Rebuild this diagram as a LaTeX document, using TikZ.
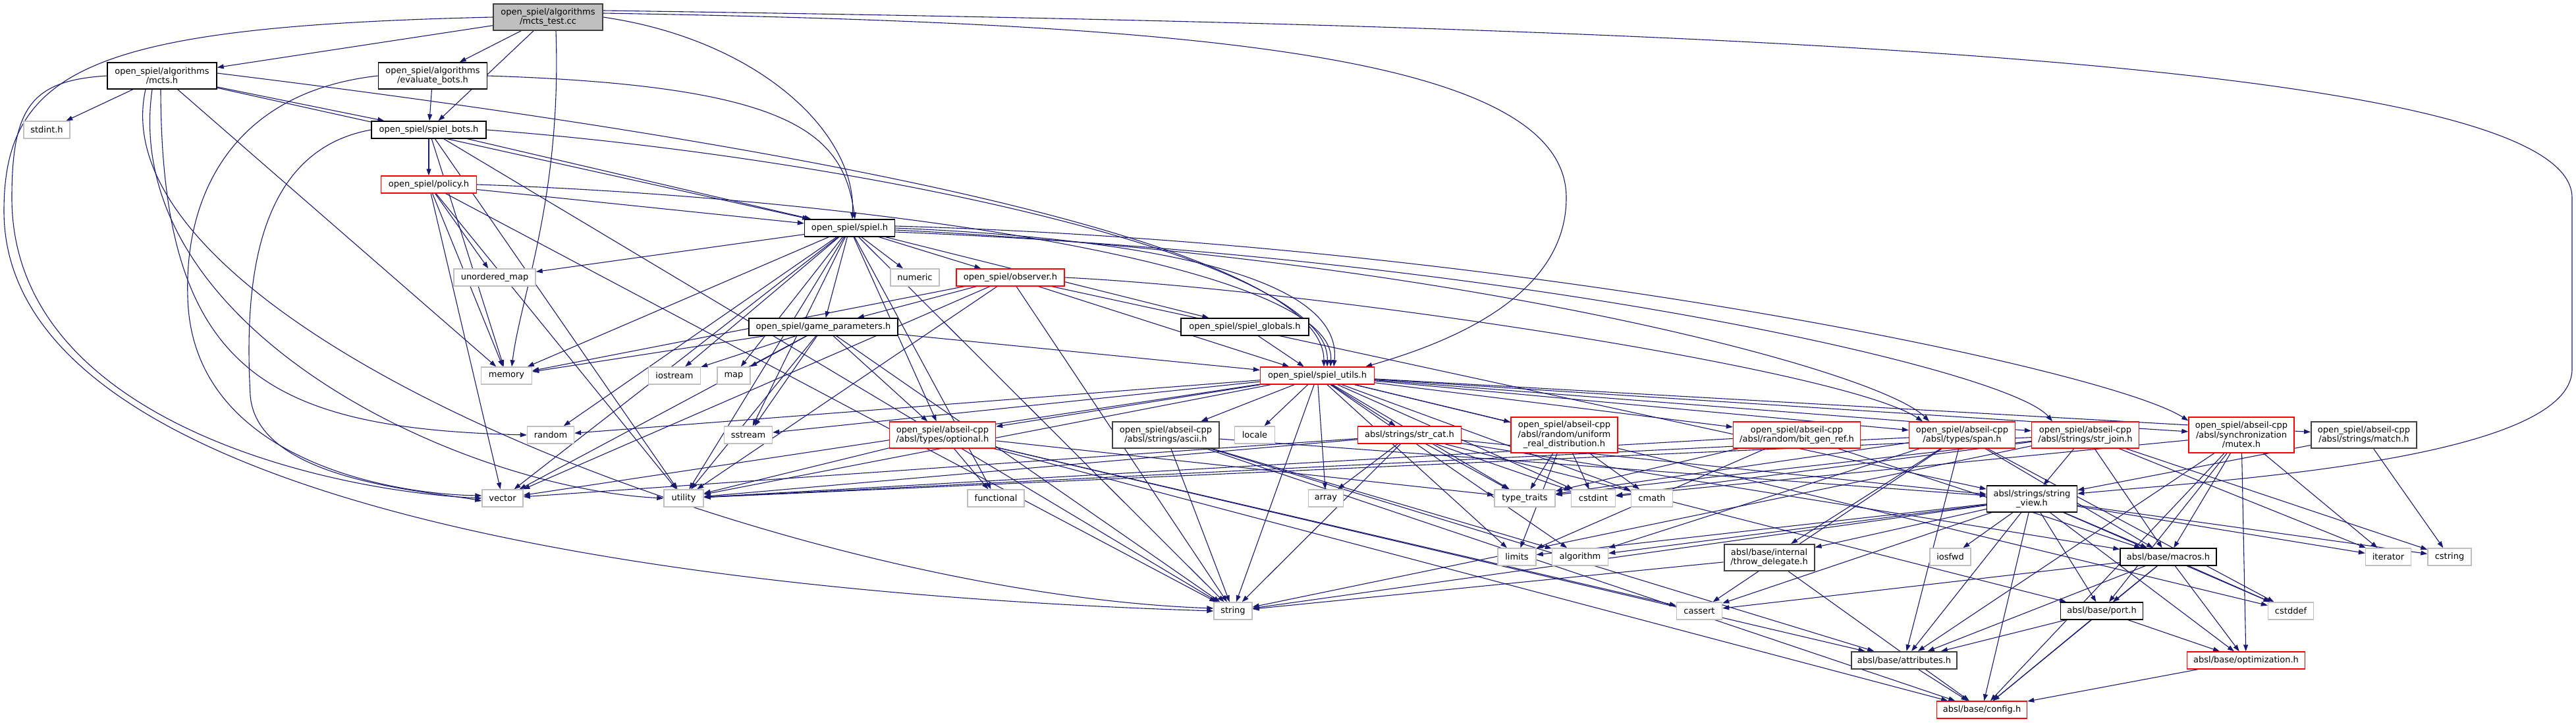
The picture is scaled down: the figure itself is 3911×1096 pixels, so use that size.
\documentclass[tikz,border=0pt]{standalone}
\usepackage{fontspec}
\setmainfont{DejaVu Sans}
\usetikzlibrary{arrows.meta,backgrounds}

\definecolor{edgeblue}{HTML}{191970}
\definecolor{rootfill}{HTML}{BFBFBF}
\definecolor{sysgray}{HTML}{BFBFBF}
\definecolor{darkbox}{HTML}{404040}

\tikzset{
  hdr/.style={draw=black, line width=1.4pt, fill=white, inner sep=1pt, align=center,
    font=\fontsize{13}{14.5}\selectfont, minimum height=26pt},
  twol/.style={minimum height=40pt},
  threel/.style={minimum height=54pt},
  redhdr/.style={hdr, draw=red},
  darkhdr/.style={hdr, draw=darkbox, line width=2pt},
  syshdr/.style={hdr, draw=sysgray},
  roothdr/.style={hdr, draw=darkbox, fill=rootfill},
  dep/.style={draw=edgeblue, line width=1.1pt, -{Triangle[length=10pt,width=7pt]}},
}

\begin{document}
\begin{tikzpicture}[x=1pt,y=1pt]
    \useasboundingbox (0,0) rectangle (3911,-1096);

    % Files of the project
    \node[roothdr, twol, minimum width=166pt] (test) at (832,-26) {open\_spiel/algorithms\\/mcts\_test.cc};
    \node[hdr, twol, minimum width=166pt] (mcts) at (246,-115) {open\_spiel/algorithms\\/mcts.h};
    \node[hdr, twol, minimum width=165pt] (evalb) at (657,-115) {open\_spiel/algorithms\\/evaluate\_bots.h};
    \node[hdr, minimum width=174pt] (bots) at (651,-197) {open\_spiel/spiel\_bots.h};
    \node[redhdr, minimum width=145pt] (policy) at (651,-280) {open\_spiel/policy.h};
    \node[hdr, minimum width=137pt] (spiel) at (1290,-346) {open\_spiel/spiel.h};
    \node[redhdr, minimum width=164pt] (observer) at (1534,-421) {open\_spiel/observer.h};
    \node[hdr, minimum width=226pt] (params) at (1250,-496) {open\_spiel/game\_parameters.h};
    \node[hdr, minimum width=194pt] (globals) at (1890,-496) {open\_spiel/spiel\_globals.h};
    \node[redhdr, minimum width=173pt] (utils) at (2000,-570) {open\_spiel/spiel\_utils.h};

    % Abseil files
    \node[redhdr, twol, minimum width=161pt] (optional) at (1431,-660) {open\_spiel/abseil-cpp\\/absl/types/optional.h};
    \node[darkhdr, twol, minimum width=162pt] (ascii) at (1770,-660) {open\_spiel/abseil-cpp\\/absl/strings/ascii.h};
    \node[redhdr, minimum width=157pt] (strcat) at (2140,-660) {absl/strings/str\_cat.h};
    \node[redhdr, threel, minimum width=162pt] (uniform) at (2375,-660) {open\_spiel/abseil-cpp\\/absl/random/uniform\\\_real\_distribution.h};
    \node[redhdr, twol, minimum width=193pt] (bitgen) at (2728,-660) {open\_spiel/abseil-cpp\\/absl/random/bit\_gen\_ref.h};
    \node[redhdr, twol, minimum width=161pt] (span) at (2979,-660) {open\_spiel/abseil-cpp\\/absl/types/span.h};
    \node[redhdr, twol, minimum width=163pt] (strjoin) at (3166,-660) {open\_spiel/abseil-cpp\\/absl/strings/str\_join.h};
    \node[redhdr, threel, minimum width=160pt] (mutex) at (3403,-660) {open\_spiel/abseil-cpp\\/absl/synchronization\\/mutex.h};
    \node[darkhdr, twol, minimum width=160pt] (match) at (3589,-660) {open\_spiel/abseil-cpp\\/absl/strings/match.h};
    \node[hdr, twol, minimum width=137pt] (strview) at (3085,-757) {absl/strings/string\\\_view.h};
    \node[darkhdr, twol, minimum width=137pt] (throw) at (2686,-846) {absl/base/internal\\/throw\_delegate.h};
    \node[hdr, minimum width=146pt] (macros) at (3292,-845) {absl/base/macros.h};
    \node[hdr, minimum width=125pt] (port) at (3191,-927) {absl/base/port.h};
    \node[darkhdr, minimum width=160pt] (attributes) at (2891,-1002) {absl/base/attributes.h};
    \node[redhdr, minimum width=179pt] (optimization) at (3410,-1002) {absl/base/optimization.h};
    \node[redhdr, minimum width=137pt] (config) at (3009,-1077) {absl/base/config.h};

    % System headers
    \node[syshdr, minimum width=70pt] (stdint) at (71,-197) {stdint.h};
    \node[syshdr, minimum width=124pt] (umap) at (751,-421) {unordered\_map};
    \node[syshdr, minimum width=74pt] (numeric) at (1389,-421) {numeric};
    \node[syshdr, minimum width=77pt] (memory) at (769,-570) {memory};
    \node[syshdr, minimum width=79pt] (iostream) at (1024,-570) {iostream};
    \node[syshdr, minimum width=50pt] (map) at (1114,-570) {map};
    \node[syshdr, minimum width=71pt] (random) at (836,-660) {random};
    \node[syshdr, minimum width=73pt] (sstream) at (1136,-660) {sstream};
    \node[syshdr, minimum width=61pt] (locale) at (1905,-660) {locale};
    \node[syshdr, minimum width=62pt] (vector) at (763,-756) {vector};
    \node[syshdr, minimum width=60pt] (utility) at (1038,-756) {utility};
    \node[syshdr, minimum width=86pt] (functional) at (1512,-756) {functional};
    \node[syshdr, minimum width=53pt] (array) at (2013,-756) {array};
    \node[syshdr, minimum width=92pt] (typetraits) at (2315,-756) {type\_traits};
    \node[syshdr, minimum width=67pt] (cstdint) at (2419,-756) {cstdint};
    \node[syshdr, minimum width=63pt] (cmath) at (2508,-756) {cmath};
    \node[syshdr, minimum width=58pt] (limits) at (2303,-845) {limits};
    \node[syshdr, minimum width=85pt] (algorithm) at (2399,-845) {algorithm};
    \node[syshdr, minimum width=62pt] (iosfwd) at (2961,-845) {iosfwd};
    \node[syshdr, minimum width=69pt] (iterator) at (3626,-845) {iterator};
    \node[syshdr, minimum width=66pt] (cstring) at (3719,-845) {cstring};
    \node[syshdr, minimum width=58pt] (string) at (1872,-927) {string};
    \node[syshdr, minimum width=69pt] (cassert) at (2580,-927) {cassert};
    \node[syshdr, minimum width=69pt] (cstddef) at (3478,-927) {cstddef};

    \begin{scope}[on background layer]
    \fill[white] (0,0) rectangle (3911,-1096);

    % Long routed includes
    \draw[dep] (test.west) .. controls (150,-40) and (6,-100) .. (6,-320)
        .. controls (6,-760) and (1000,-900) .. (string.west);
    \draw[dep] ([xshift=12pt]test.south) .. controls (853,-300) and (790,-450) .. ([xshift=8pt]memory.north);
    \draw[dep] (test.east) .. controls (1150,-60) and (1300,-200) .. ([xshift=4pt]spiel.north);
    \draw[dep] ([yshift=6pt]test.east) .. controls (1800,-35) and (2378,-80) .. (2378,-300)
        .. controls (2378,-450) and (2200,-520) .. ([xshift=-14pt]utils.north east);
    \draw[dep] ([yshift=10pt]test.east) .. controls (2600,-40) and (3905,-90) .. (3905,-300)
        -- (3905,-560) .. controls (3905,-700) and (3350,-730) .. ([yshift=8pt]strview.east);
    \draw[dep] (mcts.west) .. controls (50,-122) and (18,-160) .. (18,-300)
        .. controls (18,-640) and (500,-745) .. (vector.west);
    \draw[dep] ([xshift=-2pt]mcts.south) .. controls (245,-560) and (400,-650) .. (random.west);
    \draw[dep] ([xshift=-25pt]mcts.south) .. controls (140,-500) and (1200,-900) .. ([yshift=4pt]string.west);
    \draw[dep] ([xshift=-15pt]mcts.south) .. controls (180,-500) and (700,-740) .. (utility.west);
    \draw[dep] ([yshift=4pt]mcts.east) .. controls (1300,-230) and (2010,-380) .. ([xshift=10pt]utils.north);
    \draw[dep] (evalb.west) .. controls (350,-140) and (280,-300) .. (285,-450)
        .. controls (290,-700) and (600,-750) .. ([yshift=4pt]vector.west);
    \draw[dep] (evalb.east) .. controls (1200,-130) and (1280,-200) .. ([xshift=8pt]spiel.north);
    \draw[dep] (bots.west) .. controls (380,-230) and (372,-450) .. (380,-600)
        .. controls (390,-730) and (650,-745) .. ([yshift=-4pt]vector.west);
    \draw[dep] (bots.east) .. controls (1300,-240) and (2020,-390) .. ([xshift=15pt]utils.north);
    \draw[dep] (policy.east) .. controls (1300,-300) and (2030,-400) .. ([xshift=20pt]utils.north);
    \draw[dep] (spiel.east) .. controls (1700,-360) and (2040,-410) .. ([xshift=25pt]utils.north);
    \draw[dep] ([yshift=-3pt]spiel.east) .. controls (2200,-390) and (2850,-560) .. ([xshift=-50pt]span.north);
    \draw[dep] ([yshift=-6pt]spiel.east) .. controls (2300,-390) and (3050,-560) .. ([xshift=-50pt]strjoin.north);
    \draw[dep] ([yshift=3pt]spiel.east) .. controls (2300,-370) and (3200,-560) .. ([yshift=-6pt]mutex.north west);
    \draw[dep] (observer.east) .. controls (2000,-440) and (2800,-560) .. ([xshift=-60pt]span.north);

    % Direct includes
    \foreach \a/\b in {test/mcts, test/evalb, test/bots,
        mcts/stdint, mcts/bots, mcts/spiel, mcts/memory,
        evalb/bots,
        bots/policy, bots/spiel, bots/memory, bots/string, bots/utility,
        policy/memory, policy/umap, policy/string, policy/utility, policy/vector, policy/spiel,
        spiel/numeric, spiel/observer, spiel/globals, spiel/params, spiel/umap, spiel/memory,
        spiel/vector, spiel/utility, spiel/random, spiel/iostream, spiel/map, spiel/sstream,
        spiel/functional, spiel/string, spiel/optional,
        observer/params, observer/memory, observer/vector, observer/utility, observer/string,
        observer/utils, observer/strview,
        params/memory, params/iostream, params/map, params/sstream, params/string,
        params/utility, params/vector, params/utils, params/optional,
        globals/utils}
      \draw[dep] (\a) -- (\b);

    \foreach \a/\b in {utils/random, utils/sstream, utils/locale, utils/optional, utils/ascii,
        utils/strcat, utils/uniform, utils/bitgen, utils/span, utils/strjoin, utils/mutex,
        utils/match, utils/vector, utils/utility, utils/string, utils/array, utils/typetraits,
        utils/cstdint, utils/cmath, utils/limits, utils/algorithm, utils/cstddef,
        optional/functional, optional/typetraits, optional/utility, optional/cassert,
        optional/attributes, optional/config,
        ascii/string, ascii/algorithm, ascii/attributes, ascii/config, ascii/strview,
        strcat/vector, strcat/utility, strcat/array, strcat/string, strcat/typetraits,
        strcat/cstdint, strcat/strview, strcat/port, strcat/macros,
        uniform/typetraits, uniform/cstdint, uniform/cmath, uniform/limits,
        bitgen/utility, bitgen/typetraits, bitgen/limits, bitgen/macros,
        span/utility, span/typetraits, span/algorithm, span/cassert, span/cstddef,
        span/throw, span/attributes, span/macros,
        strjoin/cstdint, strjoin/typetraits, strjoin/utility, strjoin/string,
        strjoin/iterator, strjoin/cstring, strjoin/macros, strjoin/strview,
        mutex/cstdint, mutex/attributes, mutex/macros, mutex/port, mutex/optimization,
        mutex/iterator, mutex/config,
        match/cstring, match/strview}
      \draw[dep] (\a) -- (\b);

    \foreach \a/\b in {strview/algorithm, strview/cassert, strview/cstddef, strview/cstring,
        strview/iosfwd, strview/iterator, strview/limits, strview/string, strview/config,
        strview/attributes, strview/port, strview/macros, strview/throw, strview/optimization,
        throw/string, throw/config,
        macros/cassert, macros/cstddef, macros/attributes, macros/config,
        macros/optimization, macros/port,
        port/attributes, port/config, port/optimization,
        attributes/config, optimization/config}
      \draw[dep] (\a) -- (\b);
    \end{scope}
\end{tikzpicture}
\end{document}
